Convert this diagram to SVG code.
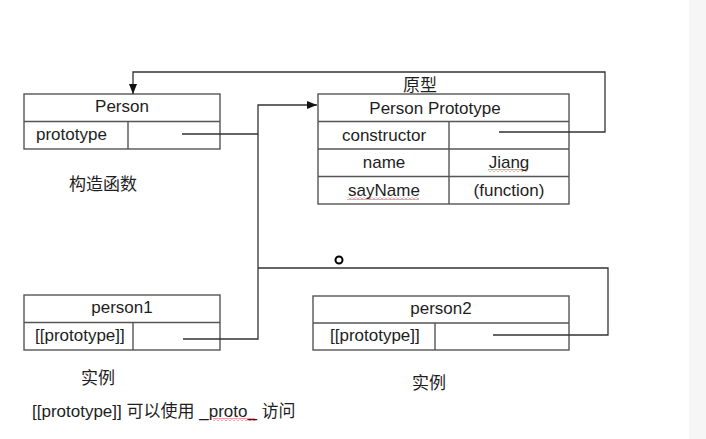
<svg xmlns="http://www.w3.org/2000/svg" width="706" height="439" viewBox="0 0 706 439">
<style>
.box{fill:#fff;stroke:#555;stroke-width:1.4}
.div{stroke:#555;stroke-width:1.4;fill:none}
.t{font-family:"Liberation Sans",Arial,sans-serif;font-size:17px;fill:#1e1e1e}
.c{text-anchor:middle}
.cn{font-family:"Liberation Sans","Noto Sans CJK SC",sans-serif;font-size:17px;fill:#1e1e1e}
.conn{fill:none;stroke:#333;stroke-width:1.3}
</style>
<defs>
<marker id="arr" viewBox="0 0 10 10" refX="10" refY="5" markerWidth="10" markerHeight="10" markerUnits="userSpaceOnUse" orient="auto">
<path d="M0,1 L10,5 L0,9 z" fill="#111"/>
</marker>
<pattern id="wave" width="4" height="3" patternUnits="userSpaceOnUse">
<path d="M0,2.5 L2,0.5 L4,2.5" fill="none" stroke="#e03030" stroke-width="0.9"/>
</pattern>
</defs>
<rect x="0" y="0" width="706" height="439" fill="#fff"/>
<rect x="689" y="0" width="17" height="439" fill="#f6f6f6"/>

<g id="person">
<rect class="box" x="24" y="94" width="196" height="55"/>
<path class="div" d="M24,121.5 H220 M128,121.5 V149"/>
<text class="t c" x="122" y="112">Person</text>
<text class="t" x="36" y="140">prototype</text>
</g>

<g id="person-prototype">
<rect class="box" x="318" y="94" width="251" height="110"/>
<path class="div" d="M318,121.5 H569 M318,149 H569 M318,176.5 H569 M449,121.5 V204"/>
<text class="t c" x="435" y="113.5">Person Prototype</text>
<text class="t c" x="384" y="141">constructor</text>
<text class="t c" x="384" y="168">name</text>
<text class="t c" x="509" y="168">Jiang</text>
<text class="t c" x="384" y="196">sayName</text>
<text class="t c" x="509" y="196">(function)</text>
<rect x="488" y="169" width="40" height="3" fill="url(#wave)"/>
<rect x="347" y="197" width="72" height="3" fill="url(#wave)"/>
</g>

<g id="person1">
<rect class="box" x="24" y="295" width="196" height="55"/>
<path class="div" d="M24,322.5 H220 M133,322.5 V350"/>
<text class="t c" x="122" y="313">person1</text>
<text class="t" x="35" y="341">[[prototype]]</text>
</g>

<g id="person2">
<rect class="box" x="313" y="296" width="256" height="54"/>
<path class="div" d="M313,323 H569 M435,323 V350"/>
<text class="t c" x="441" y="314">person2</text>
<text class="t" x="330" y="341">[[prototype]]</text>
</g>

<g id="connectors">
<path class="conn" d="M182,134 H258 V105 H317" marker-end="url(#arr)"/>
<path class="conn" d="M499,132 H605 V72 H133 V94" marker-end="url(#arr)"/>
<path class="conn" d="M183,339 H258 V134"/>
<path class="conn" d="M493,335 H608 V268 H258"/>
</g>

<g id="labels">
<text class="cn c" x="420" y="91">原型</text>
<text class="cn c" x="103" y="190">构造函数</text>
<text class="cn c" x="98" y="384">实例</text>
<text class="cn c" x="429" y="389">实例</text>
<text class="cn" x="32" y="417">[[prototype]] 可以使用 _proto_ 访问</text>
<rect x="213" y="418" width="42" height="3" fill="url(#wave)"/>
</g>

<g id="cursor">
<circle cx="339" cy="260" r="3.5" fill="#fff" stroke="#000" stroke-width="2"/>
</g>
</svg>
